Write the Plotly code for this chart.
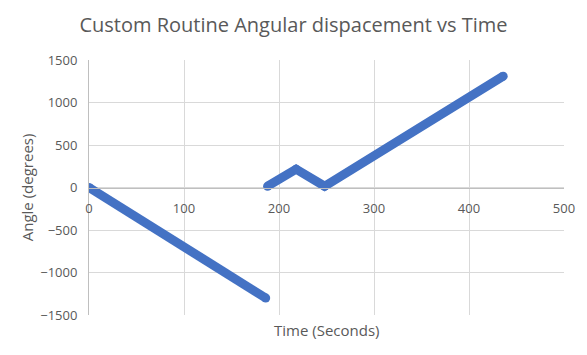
import plotly.graph_objects as go

# Data
seg1_time = [0, 186]
seg1_angle = [0, -1300]
seg2_time = [188, 218, 248, 436]
seg2_angle = [15, 215, 15, 1310]

x_ticks = [0, 100, 200, 300, 400, 500]
y_ticks = [-1500, -1000, -500, 0, 500, 1000, 1500]

color = "#4472C4"
txt = "#595959"
font_family = "Open Sans, Lato, Liberation Sans, sans-serif"

fig = go.Figure()
for xs, ys in [(seg1_time, seg1_angle), (seg2_time, seg2_angle)]:
    fig.add_trace(go.Scatter(
        x=xs, y=ys, mode="lines+markers",
        line=dict(color=color, width=9),
        marker=dict(color=color, size=9),
        showlegend=False, hoverinfo="x+y",
    ))

fig.update_layout(
    width=587, height=355,
    margin=dict(l=89, r=23, t=60, b=40),
    paper_bgcolor="white", plot_bgcolor="white",
    font=dict(family=font_family, color=txt, size=13),
    title=dict(text="Custom Routine Angular dispacement vs Time",
               x=0.5, xanchor="center", y=0.93, yanchor="middle",
               font=dict(size=20, color=txt, family=font_family)),
    xaxis=dict(range=[0, 500], tickvals=x_ticks, showgrid=True,
               gridcolor="#d9d9d9", gridwidth=1, zeroline=False,
               showline=True, linecolor="#bfbfbf", linewidth=1,
               anchor="free", position=0.5, ticks="", ticklabelstandoff=9,
               tickfont=dict(size=13, color=txt), fixedrange=True),
    yaxis=dict(range=[-1500, 1500], tickvals=y_ticks, showgrid=True,
               gridcolor="#d9d9d9", gridwidth=1, zeroline=False,
               showline=True, linecolor="#bfbfbf", linewidth=1,
               ticks="", ticklabelstandoff=8,
               tickfont=dict(size=13, color=txt), fixedrange=True),
    annotations=[
        dict(text="Time (Seconds)", xref="paper", yref="paper",
             x=0.5, y=-0.01, xanchor="center", yanchor="top",
             showarrow=False, font=dict(size=15, color=txt)),
        dict(text="Angle (degrees)", xref="paper", yref="paper",
             x=-0.131, y=0.5, xanchor="center", yanchor="middle",
             textangle=-90, showarrow=False, font=dict(size=15, color=txt)),
    ],
)

fig.write_html("out.html")
